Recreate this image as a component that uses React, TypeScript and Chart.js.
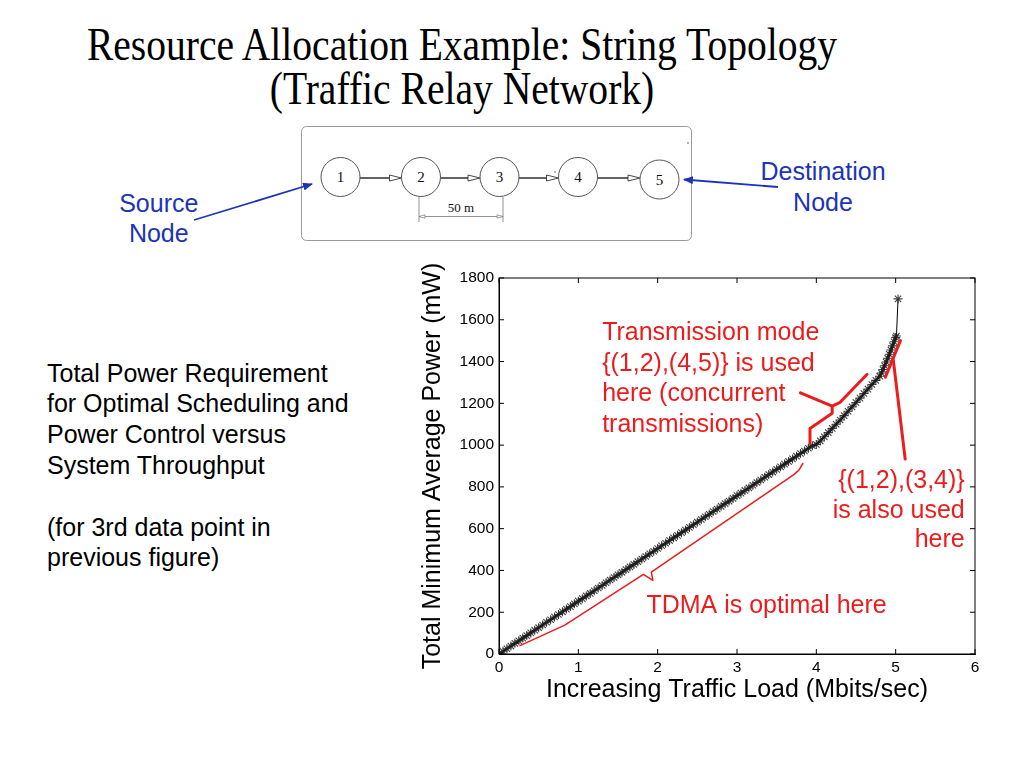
import React, { useEffect, useRef } from "react";
import { Chart, registerables } from "chart.js";

Chart.register(...registerables);

// ---- data ----
const load = [
  0, 0.05, 0.1, 0.15, 0.2, 0.25, 0.3, 0.35, 0.4, 0.45, 0.5, 0.55, 0.6, 0.65, 0.7, 0.75, 0.8, 0.85, 0.9, 0.95,
  1.0, 1.05, 1.1, 1.15, 1.2, 1.25, 1.3, 1.35, 1.4, 1.45, 1.5, 1.55, 1.6, 1.65, 1.7, 1.75, 1.8, 1.85, 1.9, 1.95,
  2.0, 2.05, 2.1, 2.15, 2.2, 2.25, 2.3, 2.35, 2.4, 2.45, 2.5, 2.55, 2.6, 2.65, 2.7, 2.75, 2.8, 2.85, 2.9, 2.95,
  3.0, 3.05, 3.1, 3.15, 3.2, 3.25, 3.3, 3.35, 3.4, 3.45, 3.5, 3.55, 3.6, 3.65, 3.7, 3.75, 3.8, 3.85, 3.9, 3.95,
  4.0, 4.05, 4.1, 4.15, 4.2, 4.25, 4.3, 4.35, 4.4, 4.45, 4.5, 4.55, 4.6, 4.65, 4.7, 4.75, 4.8,
  4.82, 4.84, 4.86, 4.88, 4.9, 4.92, 4.94, 4.96, 4.98, 5.0, 5.01, 5.03,
];
const power = [
  0, 13, 25, 38, 51, 63, 76, 88, 101, 114, 126, 139, 152, 164, 177, 189, 202, 215, 227, 240,
  253, 265, 278, 290, 303, 316, 328, 341, 354, 366, 379, 391, 404, 417, 429, 442, 455, 467, 480, 492,
  505, 518, 530, 543, 556, 568, 581, 593, 606, 619, 631, 644, 657, 669, 682, 694, 707, 720, 732, 745,
  758, 770, 783, 795, 808, 821, 833, 846, 859, 871, 884, 896, 909, 922, 934, 947, 960, 972, 985, 997,
  1003, 1020, 1040, 1060, 1080, 1100, 1120, 1141, 1162, 1183, 1204, 1225, 1247, 1268, 1290, 1310, 1330,
  1345, 1362, 1380, 1398, 1416, 1435, 1455, 1475, 1495, 1515, 1522, 1700,
];
const xTicks = [0, 1, 2, 3, 4, 5, 6];
const yTicks = [0, 200, 400, 600, 800, 1000, 1200, 1400, 1600, 1800];

const titleLines = ["Resource Allocation Example: String Topology", "(Traffic Relay Network)"];
const leftText = [
  "Total Power Requirement",
  "for Optimal Scheduling and",
  "Power Control versus",
  "System Throughput",
  "",
  "(for 3rd data point in",
  "previous figure)",
];
const modeText = ["Transmission mode", "{(1,2),(4,5)} is used", "here (concurrent", "transmissions)"];
const alsoText = ["{(1,2),(3,4)}", "is also used", "here"];
const tdmaText = "TDMA is optimal here";

// annotation paths in data coordinates
const tdmaBracket: [number, number][] = [
  [0.265, 40], [0.83, 138], [1.82, 381], [1.94, 352], [1.92, 392], [3.72, 860], [3.78, 880], [3.83, 912],
];
const modeBracket: [number, number][] = [
  [3.92, 1008], [3.92, 1080], [4.2, 1152], [4.2, 1187], [4.3, 1205], [4.64, 1339],
];
const modePointer: [number, number][] = [[3.8, 1250], [4.2, 1187]];
const alsoBracket: [number, number][] = [[4.87, 1325], [5.06, 1500]];
const alsoPointer: [number, number][] = [[4.97, 1408], [5.12, 933]];

const SANS = '"Liberation Sans", Arial, Helvetica, sans-serif';
const SERIF = '"Liberation Serif", "Times New Roman", serif';
const RED = "#ec1c1c";
const BLUE = "#1c34b8";

const annotate = {
  id: "annotate",
  afterDatasetsDraw(chart: any) {
    const { ctx, chartArea: a, scales } = chart;
    const xs = scales.x;
    const ys = scales.y;
    const px = (v: number) => xs.getPixelForValue(v);
    const py = (v: number) => ys.getPixelForValue(v);
    ctx.save();
    // box + inward ticks
    ctx.strokeStyle = "#000";
    ctx.lineWidth = 1;
    ctx.strokeRect(a.left, a.top, a.right - a.left, a.bottom - a.top);
    ctx.beginPath();
    xTicks.forEach((t) => {
      const x = px(t);
      ctx.moveTo(x, a.bottom);
      ctx.lineTo(x, a.bottom - 5);
      ctx.moveTo(x, a.top);
      ctx.lineTo(x, a.top + 5);
    });
    yTicks.forEach((t) => {
      const y = py(t);
      ctx.moveTo(a.left, y);
      ctx.lineTo(a.left + 5, y);
      ctx.moveTo(a.right, y);
      ctx.lineTo(a.right - 5, y);
    });
    ctx.stroke();

    const path = (pts: [number, number][], w: number) => {
      ctx.beginPath();
      pts.forEach(([x, y], i) => (i ? ctx.lineTo(px(x), py(y)) : ctx.moveTo(px(x), py(y))));
      ctx.lineWidth = w;
      ctx.strokeStyle = RED;
      ctx.lineJoin = "round";
      ctx.lineCap = "round";
      ctx.stroke();
    };
    path(tdmaBracket, 1.5);
    path(modeBracket, 3);
    path(modePointer, 3);
    path(alsoBracket, 3);
    path(alsoPointer, 3);

    ctx.fillStyle = RED;
    ctx.font = `25px ${SANS}`;
    ctx.textBaseline = "alphabetic";
    ctx.textAlign = "left";
    modeText.forEach((t, i) => ctx.fillText(t, px(1.3), py(1503) + i * 30.5));
    ctx.fillText(tdmaText, px(1.858), py(195));
    ctx.textAlign = "right";
    alsoText.forEach((t, i) => ctx.fillText(t, px(5.87), py(793) + i * 29.2));
    ctx.restore();
  },
};

function PlotChart() {
  const ref = useRef<HTMLCanvasElement>(null);
  useEffect(() => {
    if (!ref.current) return;
    const tickFont = { size: 15.5, family: SANS };
    const titleFont = { size: 25, family: SANS };
    const chart = new Chart(ref.current, {
      type: "line",
      data: {
        datasets: [
          {
            data: load.map((x, i) => ({ x, y: power[i] })),
            borderColor: "#000",
            borderWidth: 2.5,
            pointStyle: "star",
            pointRadius: 4.5,
            pointBorderWidth: 1.1,
            pointBorderColor: "rgba(35,35,35,0.85)",
            pointBackgroundColor: "rgba(0,0,0,0)",
            tension: 0,
            segment: {
              borderWidth: (c: any) => (c.p0DataIndex >= load.length - 2 ? 1 : 2.5),
            },
          },
        ],
      },
      options: {
        animation: false,
        responsive: false,
        maintainAspectRatio: false,
        layout: { padding: { top: 23, right: 25, left: 0, bottom: 0 } },
        plugins: { legend: { display: false }, tooltip: { enabled: false } },
        scales: {
          x: {
            type: "linear",
            min: 0,
            max: 6,
            afterBuildTicks: (s: any) => {
              s.ticks = xTicks.map((v) => ({ value: v }));
            },
            ticks: { font: tickFont, color: "#000", padding: 4, callback: (v: any) => String(v) },
            grid: { display: false, drawTicks: false },
            border: { display: true, color: "#000", width: 1 },
            title: {
              display: true,
              text: "Increasing Traffic Load (Mbits/sec)",
              font: titleFont,
              color: "#000",
              padding: { top: 0, bottom: 5 },
            },
            afterFit: (s: any) => {
              s.height = 56;
            },
          },
          y: {
            type: "linear",
            min: 0,
            max: 1800,
            afterBuildTicks: (s: any) => {
              s.ticks = yTicks.map((v) => ({ value: v }));
            },
            ticks: { font: tickFont, color: "#000", padding: 5, callback: (v: any) => String(v) },
            grid: { display: false, drawTicks: false },
            border: { display: true, color: "#000", width: 1 },
            title: {
              display: true,
              text: "Total Minimum Average Power (mW)",
              font: titleFont,
              color: "#000",
              padding: { top: 8, bottom: 0 },
            },
            afterFit: (s: any) => {
              s.width = 89;
            },
          },
        },
      } as any,
      plugins: [annotate],
    });
    return () => chart.destroy();
  }, []);
  return (
    <canvas
      ref={ref}
      width={590}
      height={455}
      style={{ position: "absolute", left: 410, top: 255, width: 590, height: 455 }}
    />
  );
}

const nodes: [number, number, string][] = [
  [340.5, 177, "1"],
  [421, 177, "2"],
  [499.5, 177, "3"],
  [578, 177, "4"],
  [659.5, 179.5, "5"],
];

function Diagram() {
  const r = 19.5;
  const arrows: [number, number, number][] = [];
  for (let i = 0; i < nodes.length - 1; i++) {
    arrows.push([nodes[i][0] + r, nodes[i + 1][0] - r, 178]);
  }
  return (
    <svg
      width={1024}
      height={768}
      style={{ position: "absolute", left: 0, top: 0, pointerEvents: "none" }}
    >
      <defs>
        <marker id="blueHead" markerWidth="10" markerHeight="8" refX="9" refY="4" orient="auto" markerUnits="userSpaceOnUse">
          <path d="M0,0 L10,4 L0,8 z" fill={BLUE} />
        </marker>
      </defs>
      <rect x={301.5} y={126.5} width={390} height={114} rx={5} fill="none" stroke="#9a9a9a" strokeWidth={1} />
      {arrows.map(([x1, x2, y], i) => (
        <g key={i}>
          <line x1={x1} y1={y} x2={x2 - 11} y2={y} stroke="#222" strokeWidth={1.4} />
          <path d={`M${x2 - 12},${y - 3} L${x2},${y} L${x2 - 12},${y + 3} z`} fill="#fff" stroke="#333" strokeWidth={0.9} />
        </g>
      ))}
      {nodes.map(([cx, cy, t]) => (
        <g key={t}>
          <circle cx={cx} cy={cy} r={r} fill="#fff" stroke="#555" strokeWidth={1} />
          <text x={cx} y={cy + 5} textAnchor="middle" fontFamily={SERIF} fontSize={15} fill="#111">
            {t}
          </text>
        </g>
      ))}
      {/* 50 m dimension */}
      <line x1={419} y1={197} x2={419} y2={222} stroke="#777" strokeWidth={0.8} />
      <line x1={503} y1={197} x2={503} y2={222} stroke="#777" strokeWidth={0.8} />
      <line x1={419} y1={216.5} x2={503} y2={216.5} stroke="#777" strokeWidth={0.8} />
      <path d="M419,216.5 L425,214.8 L425,218.2 z" fill="#fff" stroke="#777" strokeWidth={0.7} />
      <path d="M503,216.5 L497,214.8 L497,218.2 z" fill="#fff" stroke="#777" strokeWidth={0.7} />
      <text x={461} y={212} textAnchor="middle" fontFamily={SERIF} fontSize={13} fill="#111">
        50 m
      </text>
      <circle cx={688} cy={143} r={0.8} fill="#555" />
      <circle cx={555} cy={172} r={0.8} fill="#555" />
      {/* blue pointers */}
      <line x1={194} y1={220} x2={312} y2={184} stroke={BLUE} strokeWidth={1.8} markerEnd="url(#blueHead)" />
      <line x1={778} y1={187} x2={684} y2={179.5} stroke={BLUE} strokeWidth={1.8} markerEnd="url(#blueHead)" />
    </svg>
  );
}

export default function App() {
  return (
    <div
      style={{
        position: "absolute",
        left: 0,
        top: 0,
        width: 1024,
        height: 768,
        background: "#fff",
        overflow: "hidden",
      }}
    >
      {titleLines.map((t, i) => (
        <div
          key={t}
          style={{
            position: "absolute",
            left: 462,
            top: i === 0 ? 22.3 : 66.3,
            fontFamily: SERIF,
            fontSize: 46,
            lineHeight: "45px",
            whiteSpace: "nowrap",
            color: "#000",
            transform: "translateX(-50%) scaleX(0.86)",
          }}
        >
          {t}
        </div>
      ))}
      <div
        style={{
          position: "absolute",
          left: 47,
          top: 357.6,
          fontFamily: SANS,
          fontSize: 25,
          lineHeight: "30.8px",
          color: "#000",
          whiteSpace: "nowrap",
        }}
      >
        {leftText.map((t, i) => (
          <div key={i} style={{ height: 30.8 }}>
            {t}
          </div>
        ))}
      </div>
      <div
        style={{
          position: "absolute",
          left: 158.8,
          top: 188,
          transform: "translateX(-50%)",
          fontFamily: SANS,
          fontSize: 25,
          lineHeight: "30px",
          color: BLUE,
          textAlign: "center",
          whiteSpace: "nowrap",
        }}
      >
        <div>Source</div>
        <div>Node</div>
      </div>
      <div
        style={{
          position: "absolute",
          left: 823,
          top: 156.3,
          transform: "translateX(-50%)",
          fontFamily: SANS,
          fontSize: 25,
          lineHeight: "31px",
          color: BLUE,
          textAlign: "center",
          whiteSpace: "nowrap",
        }}
      >
        <div>Destination</div>
        <div>Node</div>
      </div>
      <Diagram />
      <PlotChart />
    </div>
  );
}
